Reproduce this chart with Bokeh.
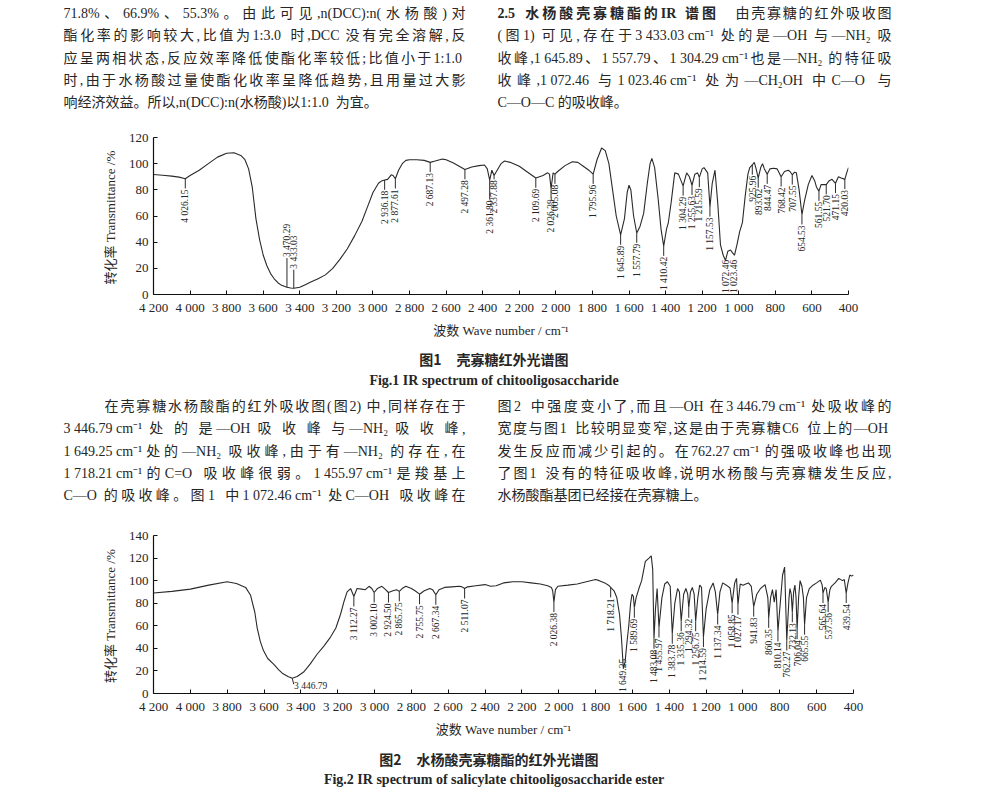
import numpy as np
from bokeh.plotting import figure
from bokeh.layouts import column, row
from bokeh.models import Range1d, FixedTicker, ColumnDataSource, LabelSet
from bokeh.core.properties import value
from bokeh.embed import file_html
from bokeh.resources import INLINE

# ---------------- data: Fig.1 (chitooligosaccharide) ----------------
wn1 = [4200, 4150, 4100, 4060, 4026.15, 4000, 3950, 3900, 3850, 3800, 3760, 3720, 3700, 3680,
       3660, 3640, 3620, 3600, 3580, 3560, 3540, 3520, 3500, 3470.29, 3450, 3433.03, 3400, 3370,
       3340, 3300, 3260, 3220, 3180, 3140, 3100, 3060, 3030, 3000, 2970, 2950, 2936.18, 2920,
       2900, 2890, 2877.61, 2860, 2840, 2820, 2800, 2760, 2720, 2687.13, 2660, 2620, 2600, 2560,
       2497.28, 2460, 2420, 2390, 2375, 2361.80, 2350, 2337.88, 2325, 2300, 2280, 2250, 2200,
       2160, 2109.69, 2070, 2045, 2035, 2026.29, 2015, 2005.08, 1990, 1950, 1910, 1880, 1850,
       1820, 1795.96, 1775, 1750, 1730, 1710, 1690, 1670, 1645.89, 1625, 1610, 1600, 1590, 1575,
       1557.79, 1540, 1520, 1500, 1485, 1475, 1460, 1440, 1425, 1410.42, 1395, 1385, 1370, 1350,
       1330, 1304.29, 1285, 1270, 1255.63, 1240, 1225, 1215.59, 1200, 1190, 1170, 1157.53, 1145,
       1130, 1115, 1100, 1085, 1072.46, 1060, 1045, 1035, 1023.46, 1010, 995, 980, 965, 950, 940,
       925.96, 915, 905, 893.62, 880, 870, 860, 844.47, 830, 810, 790, 768.42, 750, 730, 720,
       707.55, 695, 685, 670, 654.53, 640, 620, 600, 585, 575, 561.55, 550, 535, 521.70, 505, 490,
       471.15, 455, 440, 420.03, 410, 400]
t1 = [91.7, 91.2, 90.5, 89.7, 88.5, 91, 95, 100, 105, 108, 108.3, 106, 103, 96,
      82, 58, 42, 30, 22, 16, 12, 9, 7, 5.5, 5, 4.8, 5.5, 7.5,
      9.5, 12, 15, 20, 27, 35, 45, 56, 67, 78, 85, 87, 87.5, 88,
      91.5, 91, 88.5, 95, 100, 102.5, 103, 103, 102.5, 101, 102, 103.5, 103, 100.5,
      95.5, 97.5, 98.5, 99, 96, 87.5, 95, 91, 94, 100, 102, 101, 98,
      94, 89, 91, 93, 92, 81, 93, 92, 94, 98.5, 101.5, 101, 98,
      95, 92, 103, 112, 110, 100, 80, 60, 45.5, 58, 78, 83.5, 80, 60,
      47, 52, 62, 85, 100, 104, 97, 72, 50, 37, 50, 55, 70, 93,
      92, 83, 93, 90, 83.5, 92, 93, 89.5, 96, 97, 93, 67, 85,
      95, 70, 38, 30, 26, 33, 34, 32, 30, 38, 48, 55, 75, 92, 97,
      99, 101, 96, 89, 97, 100, 96, 92, 96, 96.5, 96, 90, 94, 95, 94,
      91.5, 93.5, 93, 80, 61, 72, 84, 91, 87, 82, 79, 84, 84, 84, 87, 88,
      85, 90, 89, 88, 93, 97]
peaks1 = [4026.15, 3470.29, 3433.03, 2936.18, 2877.61, 2687.13, 2497.28, 2361.80, 2337.88,
          2109.69, 2026.29, 2005.08, 1795.96, 1645.89, 1557.79, 1410.42, 1304.29, 1255.63,
          1215.59, 1157.53, 1072.46, 1023.46, 925.96, 893.62, 844.47, 768.42, 707.55, 654.53,
          561.55, 521.70, 471.15, 420.03]
labels1 = ["4 026.15", "3 470.29", "3 433.03", "2 936.18", "2 877.61", "2 687.13", "2 497.28",
           "2 361.80", "2 337.88", "2 109.69", "2 026.29", "2 005.08", "1 795.96", "1 645.89",
           "1 557.79", "1 410.42", "1 304.29", "1 255.63", "1 215.59", "1 157.53", "1 072.46",
           "1 023.46", "925.96", "893.62", "844.47", "768.42", "707.55", "654.53", "561.55",
           "521.70", "471.15", "420.03"]

# ---------------- data: Fig.2 (salicylate chitooligosaccharide ester) ----------------
wn2 = [4200, 4100, 4000, 3900, 3800, 3750, 3700, 3673, 3650, 3637, 3620, 3603, 3580, 3548, 3520,
       3501, 3470, 3446.79, 3420, 3385, 3350, 3311, 3275, 3239, 3210, 3185, 3165, 3149, 3130,
       3112.27, 3095, 3070, 3050, 3030, 3015, 3002.10, 2985, 2960, 2940, 2924.50, 2900, 2880,
       2865.75, 2850, 2830, 2800, 2780, 2755.75, 2730, 2700, 2685, 2667.34, 2650, 2620, 2580,
       2540, 2525, 2511.07, 2495, 2450, 2400, 2370, 2340, 2300, 2250, 2200, 2150, 2100, 2060,
       2040, 2033, 2026.38, 2018, 2005, 1950, 1900, 1850, 1800, 1780, 1750, 1730, 1718.21, 1700,
       1685, 1670, 1660, 1649.25, 1640, 1630, 1620, 1610, 1602, 1595, 1589.69, 1580, 1565, 1550,
       1530, 1510, 1498, 1490, 1483.08, 1475, 1466, 1455.97, 1440, 1425, 1410, 1395, 1383.78,
       1370, 1355, 1345, 1335.36, 1322, 1310, 1300, 1294.32, 1285, 1275, 1265, 1256.75, 1245,
       1235, 1225, 1214.59, 1200, 1180, 1162, 1150, 1137.34, 1125, 1110, 1090, 1070, 1058.85,
       1045, 1035, 1027.17, 1015, 1000, 985, 970, 955, 941.83, 925, 905, 880, 865, 860.35, 850,
       840, 830, 820, 810.14, 795, 785, 774, 762.27, 750, 745, 738, 732.13, 725, 718, 712,
       706.04, 698, 690, 680, 672, 665.55, 655, 640, 620, 600, 580, 570, 565.64, 555, 548,
       537.56, 528, 520, 500, 480, 460, 450, 439.54, 430, 420, 410, 400]
t2 = [89, 90.5, 92.5, 96, 99, 97.5, 94, 87, 72, 58, 46, 38, 31, 26, 21,
      18, 15, 13.5, 15, 19, 26, 35, 42, 50, 58, 70, 82, 90, 93,
      86, 93, 92.5, 92, 95, 93, 89.5, 93, 95, 92, 89.5, 91, 92,
      90.5, 93, 95, 93, 91, 88, 91, 93, 92, 87.5, 92, 94, 94.5,
      95, 94.5, 93, 94.5, 95.5, 96.5, 95, 95.5, 98, 99, 99, 98, 97, 95.5,
      94, 91, 81, 92, 95, 96, 97, 99, 101, 100, 98, 96, 94, 91,
      85, 70, 50, 22, 28, 45, 60, 80, 88, 86, 76, 85, 93, 100,
      117, 120, 122, 110, 48.5, 75, 93, 58.5, 85, 97, 99, 95, 53,
      80, 93, 90, 64, 88, 93, 88, 76, 90, 94, 88, 64, 85,
      96, 94, 50, 75, 92, 98, 90, 70, 90, 98, 96, 93.5, 80,
      98, 102, 78.7, 97, 96, 97, 98, 95, 77, 88, 93, 96.5, 85, 67, 85,
      92, 81, 92, 55, 85, 105, 112, 47, 85, 93, 88, 72, 90, 96, 85,
      57, 85, 100, 95, 85, 61, 85, 93, 96, 98, 100.5, 96, 89, 94, 93,
      81, 92, 95, 98, 102, 100, 101, 89, 98, 105, 104, 105]
peaks2 = [3446.79, 3112.27, 3002.10, 2924.50, 2865.75, 2755.75, 2667.34, 2511.07, 2026.38,
          1718.21, 1649.25, 1589.69, 1483.08, 1455.97, 1383.78, 1335.36, 1294.32, 1256.75,
          1214.59, 1137.34, 1058.85, 1027.17, 941.83, 860.35, 810.14, 762.27, 732.13, 706.04,
          665.55, 565.64, 537.56, 439.54]
labels2 = ["3 446.79", "3 112.27", "3 002.10", "2 924.50", "2 865.75", "2 755.75", "2 667.34",
           "2 511.07", "2 026.38", "1 718.21", "1 649.25", "1 589.69", "1 483.08", "1 455.97",
           "1 383.78", "1 335.36", "1 294.32", "1 256.75", "1 214.59", "1 137.34", "1 058.85",
           "1 027.17", "941.83", "860.35", "810.14", "762.27", "732.13", "706.04", "665.55",
           "565.64", "537.56", "439.54"]

x_ticks = list(range(400, 4201, 200))

# ---------------- page text ----------------
text1_left = ["71.8%、66.9%、55.3%。由此可见,n(DCC):n(水杨酸)对",
              "酯化率的影响较大,比值为 1:3.0 时,DCC 没有完全溶解,反",
              "应呈两相状态,反应效率降低使酯化率较低;比值小于 1:1.0",
              "时,由于水杨酸过量使酯化收率呈降低趋势,且用量过大影",
              "响经济效益。所以,n(DCC):n(水杨酸)以 1:1.0 为宜。"]
text1_head = "2.5  水杨酸壳寡糖酯的 IR 谱图"
text1_right = ["由壳寡糖的红外吸收图",
               "(图 1)可见,存在于 3 433.03 cm⁻¹处的是—OH 与—NH₂ 吸",
               "收峰,1 645.89、1 557.79、1 304.29 cm⁻¹也是—NH₂ 的特征吸",
               "收峰,1 072.46 与 1 023.46 cm⁻¹处为—CH₂OH 中 C—O 与",
               "C—O—C 的吸收峰。"]
text2_left = ["在壳寡糖水杨酸酯的红外吸收图(图 2)中,同样存在于",
              "3 446.79 cm⁻¹ 处 的 是—OH 吸 收 峰 与—NH₂ 吸 收 峰,",
              "1 649.25 cm⁻¹处的—NH₂ 吸收峰,由于有—NH₂ 的存在,在",
              "1 718.21 cm⁻¹的 C=O 吸收峰很弱。1 455.97 cm⁻¹是羧基上",
              "C—O 的吸收峰。图 1 中 1 072.46 cm⁻¹处 C—OH 吸收峰在"]
text2_right = ["图 2 中强度变小了,而且—OH 在 3 446.79 cm⁻¹处吸收峰的",
               "宽度与图 1 比较明显变窄,这是由于壳寡糖 C6 位上的 —OH",
               "发生反应而减少引起的。在 762.27 cm⁻¹的强吸收峰也出现",
               "了图 1 没有的特征吸收峰,说明水杨酸与壳寡糖发生反应,",
               "水杨酸酯基团已经接在壳寡糖上。"]
cap1_no, cap1_cn = "图1", "壳寡糖红外光谱图"
cap1_en = "Fig.1   IR spectrum of chitooligosaccharide"
cap2_no, cap2_cn = "图2", "水杨酸壳寡糖酯的红外光谱图"
cap2_en = "Fig.2   IR spectrum of salicylate chitooligosaccharide ester"
ylabel = "转化率  Transmittance /%"
xlabel = "波数 Wave number / cm⁻¹"

# ---------------- styles ----------------
W = 994
LEFT = 153
BODY = "Liberation Serif, Noto Sans CJK SC"
INK = "#262626"
FS = 14                          # body font size, px
LINE_GAP = 22.3
COL_L = (63, 465)
COL_R = (497, 891)

# approximate advance widths (em) of Liberation Serif glyphs
EM = {"0": .5, "1": .5, "2": .5, "3": .5, "4": .5, "5": .5, "6": .5, "7": .5, "8": .5, "9": .5,
      " ": .25, ".": .25, ",": .25, ":": .278, ";": .278, "%": .833, "(": .333, ")": .333,
      "=": .564, "—": 1.0, "⁻": .35, "¹": .3, "₂": .35, "C": .667, "D": .722, "H": .722,
      "I": .333, "N": .722, "O": .722, "R": .667, "c": .444, "m": .778, "n": .5}


def is_cjk(ch):
    return ord(ch) >= 0x2E80


def tokens_of(line):
    toks, run = [], ""
    for ch in line:
        if is_cjk(ch):
            if run:
                toks.append(run)
                run = ""
            toks.append(ch)
        else:
            run += ch
    if run:
        toks.append(run)
    return toks


def width_em(tok):
    return sum(1.0 if is_cjk(c) else EM.get(c, .5) for c in tok)


def lay_line(line, x0, x1, justify, bold=False):
    toks = tokens_of(line)
    k = 1.04 if bold else 1.0
    ws = [width_em(t) * FS * k for t in toks]
    extra = 0.0
    if justify and len(toks) > 1:
        extra = (x1 - x0 - sum(ws)) / (len(toks) - 1)
    xs, x = [], x0
    for w in ws:
        xs.append(x)
        x += w + extra
    return xs, toks


def text_block(h):
    p = figure(width=W, height=h, x_range=Range1d(0, W), y_range=Range1d(h, 0),
               output_backend="svg", toolbar_location=None, min_border=0,
               x_axis_location=None, y_axis_location=None)
    p.grid.visible = False
    p.outline_line_color = None
    return p


def add_labels(p, xs, ys, texts, font=BODY, size=f"{FS}px", bold=False, align="left"):
    src = ColumnDataSource(dict(x=xs, y=ys, text=texts))
    p.add_layout(LabelSet(x="x", y="y", text="text", source=src, text_font=value(font),
                          text_font_size=size, text_font_style="bold" if bold else "normal",
                          text_color=INK, text_align=align, text_baseline="middle"))


def paragraph(p, y0, lines, col, last_justified=False, first_indent=0, first_x0=None):
    X, Y, T = [], [], []
    for i, line in enumerate(lines):
        x0 = col[0] + (first_indent if i == 0 else 0)
        if i == 0 and first_x0 is not None:
            x0 = first_x0
        justify = (i < len(lines) - 1) or last_justified
        xs, toks = lay_line(line, x0, col[1], justify)
        X += xs
        Y += [y0 + i * LINE_GAP] * len(xs)
        T += toks
    add_labels(p, X, Y, T)


def caption(p, y_cn, y_en, no, cn, en, x_no_end, x_cn):
    add_labels(p, [x_no_end], [y_cn], [no], font="Noto Sans CJK SC", size="14px", bold=True,
               align="right")
    add_labels(p, [x_cn], [y_cn], [cn], font="Noto Sans CJK SC", size="14px", bold=True)
    add_labels(p, [497], [y_en], [en], font="Liberation Serif", size="14px", bold=True,
               align="center")


def thousands(v):
    return f"{v // 1000} {v % 1000:03d}" if v >= 1000 else str(v)


def chart(h, top, bottom, right, ymax, wn, t, peaks, labels, modes):
    frame_h = h - top - bottom
    p = figure(width=W, height=h, x_range=Range1d(4200, 400), y_range=Range1d(0, ymax),
               output_backend="svg", toolbar_location=None,
               min_border_left=LEFT, min_border_right=right,
               min_border_top=top, min_border_bottom=bottom)
    p.grid.visible = False
    p.outline_line_color = None
    p.line(wn, t, line_color="#2a2a2a", line_width=1.1)

    u = ymax / frame_h  # data units per pixel
    tp = np.interp(peaks, np.array(wn)[::-1], np.array(t)[::-1])
    seg = dict(x0=[], y0=[], x1=[], y1=[])
    down = dict(x=[], y=[], text=[])
    up = dict(x=[], y=[], text=[])
    flat = dict(x=[], y=[], text=[])
    for x, y, lab in zip(peaks, tp, labels):
        mode, g = modes.get(lab, ("below", 10))
        if mode == "below":
            seg["x0"].append(x); seg["y0"].append(y)
            seg["x1"].append(x); seg["y1"].append(y - g * u)
            down["x"].append(x); down["y"].append(y - (g + 1) * u); down["text"].append(lab)
        elif mode == "above":
            seg["x0"].append(x); seg["y0"].append(y)
            seg["x1"].append(x); seg["y1"].append(y + g * u)
            up["x"].append(x); up["y"].append(y + (g + 1) * u); up["text"].append(lab)
        elif mode == "floor":
            up["x"].append(x); up["y"].append(1.5 * u); up["text"].append(lab)
        elif mode == "flat":
            seg["x0"].append(x); seg["y0"].append(y)
            seg["x1"].append(x - 8); seg["y1"].append(y - 6 * u)
            flat["x"].append(x - 10); flat["y"].append(y - 8 * u); flat["text"].append(lab)
    p.segment(seg["x0"], seg["y0"], seg["x1"], seg["y1"], line_color="#2a2a2a", line_width=1)
    lab_font = value("Liberation Serif")
    p.text(down["x"], down["y"], text=down["text"], angle=np.pi / 2, text_align="right",
           text_baseline="middle", text_font=lab_font, text_font_size="9.5px", text_color=INK)
    p.text(up["x"], up["y"], text=up["text"], angle=np.pi / 2, text_align="left",
           text_baseline="middle", text_font=lab_font, text_font_size="9.5px", text_color=INK)
    p.text(flat["x"], flat["y"], text=flat["text"], text_align="left",
           text_baseline="middle", text_font=lab_font, text_font_size="9.5px", text_color=INK)

    for ax in (p.xaxis[0], p.yaxis[0]):
        ax.axis_line_color = "#111"
        ax.axis_line_width = 1.2
        ax.major_tick_in = 4
        ax.major_tick_out = 0
        ax.major_tick_line_color = "#111"
        ax.minor_tick_line_color = None
        ax.major_label_text_font = "Liberation Serif"
        ax.major_label_text_font_size = "13px"
        ax.major_label_text_color = INK
        ax.axis_label_text_font = BODY
        ax.axis_label_text_font_style = "normal"
        ax.axis_label_text_font_size = "13px"
        ax.axis_label_text_color = INK
    p.xaxis.ticker = FixedTicker(ticks=x_ticks)
    p.xaxis.major_label_overrides = {v: thousands(v) for v in x_ticks}
    p.xaxis.major_label_standoff = 5
    p.xaxis.axis_label = xlabel
    p.xaxis.axis_label_standoff = 5
    p.yaxis.ticker = FixedTicker(ticks=list(range(0, ymax + 1, 20)))
    p.yaxis.major_label_standoff = 5
    p.yaxis.axis_label = ylabel
    p.yaxis.axis_label_standoff = 8
    return p


modes1 = {"3 470.29": ("above", 30), "3 433.03": ("above", 19),
          "2 361.80": ("below", 20), "2 337.88": ("below", 4),
          "1 072.46": ("floor", 0), "1 023.46": ("floor", 0)}
modes2 = {"3 446.79": ("flat", 0), "1 649.25": ("floor", 0)}

# block 1: top paragraphs
b1 = text_block(125)
paragraph(b1, 13, text1_left, COL_L)
hx, ht = lay_line(text1_head, COL_R[0], 716, True, bold=True)
add_labels(b1, hx, [13] * len(hx), ht, bold=True)
paragraph(b1, 13, text1_right, COL_R, first_x0=735)

c1 = chart(215, 12, 42, W - 848, 120, wn1, t1, peaks1, labels1, modes1)

# block 2: caption 1 + second paragraphs
b2 = text_block(180)
caption(b2, 18, 40, cap1_no, cap1_cn, cap1_en, 441, 456)
paragraph(b2, 66, text2_left, COL_L, last_justified=True, first_indent=41)
paragraph(b2, 66, text2_right, COL_R)

c2 = chart(220, 15, 47, W - 853, 140, wn2, t2, peaks2, labels2, modes2)

b3 = text_block(49)
caption(b3, 18, 39, cap2_no, cap2_cn, cap2_en, 401, 416)

# each figure sits in its own row so that the column does not align the plot frames
page = column(row(b1), row(c1), row(b2), row(c2), row(b3), spacing=0)
open("out.html", "w").write(file_html(page, INLINE))
